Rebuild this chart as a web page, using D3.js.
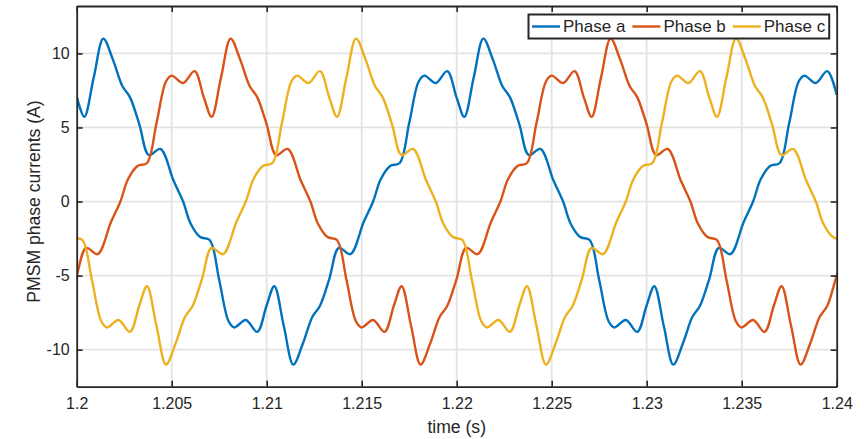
<!DOCTYPE html>
<html>
<head>
<meta charset="utf-8">
<script src="https://cdn.jsdelivr.net/npm/d3@7"></script>
<style>
body { margin: 0; background: #fff; }
text { font-family: "Liberation Sans", Arial, sans-serif; fill: #262626; }
</style>
</head>
<body>
<div id="chart"></div>
<script>
// Phase currents: [time (s), current (A)]
const phaseA = [
    [1.2000, 7.1], [1.2004, 5.72], [1.2009, 8.4], [1.2014, 11.0], [1.2019, 9.6], [1.2024, 7.8],
    [1.2028, 7.05], [1.2033, 5.2], [1.2038, 3.13], [1.2044, 3.55], [1.2051, 1.4], [1.2056, 0.0],
    [1.2060, -1.5], [1.2065, -2.4], [1.2070, -2.6], [1.2075, -5.3], [1.2080, -8.1], [1.2083, -8.5],
    [1.2089, -8.0], [1.2095, -8.8], [1.2100, -7.0], [1.2104, -5.72], [1.2109, -8.4], [1.2114, -11.0],
    [1.2119, -9.6], [1.2124, -7.8], [1.2128, -7.05], [1.2133, -5.2], [1.2138, -3.13], [1.2144, -3.55],
    [1.2151, -1.4], [1.2156, 0.0], [1.2160, 1.5], [1.2165, 2.4], [1.2170, 2.6], [1.2175, 5.3],
    [1.2180, 8.1], [1.2183, 8.5], [1.2189, 8.0], [1.2195, 8.8], [1.2200, 7.0], [1.2204, 5.72],
    [1.2209, 8.4], [1.2214, 11.0], [1.2219, 9.6], [1.2224, 7.8], [1.2228, 7.05], [1.2233, 5.2],
    [1.2238, 3.13], [1.2244, 3.55], [1.2251, 1.4], [1.2256, 0.0], [1.2260, -1.5], [1.2265, -2.4],
    [1.2270, -2.6], [1.2275, -5.3], [1.2280, -8.1], [1.2283, -8.5], [1.2289, -8.0], [1.2295, -8.8],
    [1.2300, -7.0], [1.2304, -5.72], [1.2309, -8.4], [1.2314, -11.0], [1.2319, -9.6], [1.2324, -7.8],
    [1.2328, -7.05], [1.2333, -5.2], [1.2338, -3.13], [1.2344, -3.55], [1.2351, -1.4], [1.2356, 0.0],
    [1.2360, 1.5], [1.2365, 2.4], [1.2370, 2.6], [1.2375, 5.3], [1.2380, 8.1], [1.2383, 8.5],
    [1.2389, 8.0], [1.2395, 8.8], [1.2400, 7.2]
];

const phaseB = [
    [1.1995, -7.05], [1.2000, -5.0], [1.2005, -3.13], [1.2011, -3.55], [1.2018, -1.4], [1.2023, 0.0],
    [1.2027, 1.5], [1.2032, 2.4], [1.2037, 2.6], [1.2042, 5.3], [1.2047, 8.1], [1.2050, 8.5],
    [1.2056, 8.0], [1.2062, 8.8], [1.2067, 7.0], [1.2071, 5.72], [1.2076, 8.4], [1.2081, 11.0],
    [1.2086, 9.6], [1.2091, 7.8], [1.2095, 7.05], [1.2100, 5.2], [1.2105, 3.13], [1.2111, 3.55],
    [1.2118, 1.4], [1.2123, 0.0], [1.2127, -1.5], [1.2132, -2.4], [1.2137, -2.6], [1.2142, -5.3],
    [1.2147, -8.1], [1.2150, -8.5], [1.2156, -8.0], [1.2162, -8.8], [1.2167, -7.0], [1.2171, -5.72],
    [1.2176, -8.4], [1.2181, -11.0], [1.2186, -9.6], [1.2191, -7.8], [1.2195, -7.05], [1.2200, -5.2],
    [1.2205, -3.13], [1.2211, -3.55], [1.2218, -1.4], [1.2223, 0.0], [1.2227, 1.5], [1.2232, 2.4],
    [1.2237, 2.6], [1.2242, 5.3], [1.2247, 8.1], [1.2250, 8.5], [1.2256, 8.0], [1.2262, 8.8],
    [1.2267, 7.0], [1.2271, 5.72], [1.2276, 8.4], [1.2281, 11.0], [1.2286, 9.6], [1.2291, 7.8],
    [1.2295, 7.05], [1.2300, 5.2], [1.2305, 3.13], [1.2311, 3.55], [1.2318, 1.4], [1.2323, 0.0],
    [1.2327, -1.5], [1.2332, -2.4], [1.2337, -2.6], [1.2342, -5.3], [1.2347, -8.1], [1.2350, -8.5],
    [1.2356, -8.0], [1.2362, -8.8], [1.2367, -7.0], [1.2371, -5.72], [1.2376, -8.4], [1.2381, -11.0],
    [1.2386, -9.6], [1.2391, -7.8], [1.2395, -7.05], [1.2400, -5.0], [1.2405, -3.13]
];

const phaseC = [
    [1.1993, -1.5], [1.1998, -2.4], [1.2003, -2.6], [1.2008, -5.3], [1.2013, -8.1], [1.2016, -8.5],
    [1.2022, -8.0], [1.2028, -8.8], [1.2033, -7.0], [1.2037, -5.72], [1.2042, -8.4], [1.2047, -11.0],
    [1.2052, -9.6], [1.2057, -7.8], [1.2061, -7.05], [1.2066, -5.2], [1.2071, -3.13], [1.2077, -3.55],
    [1.2084, -1.4], [1.2089, 0.0], [1.2093, 1.5], [1.2098, 2.4], [1.2103, 2.6], [1.2108, 5.3],
    [1.2113, 8.1], [1.2116, 8.5], [1.2122, 8.0], [1.2128, 8.8], [1.2133, 7.0], [1.2137, 5.72],
    [1.2142, 8.4], [1.2147, 11.0], [1.2152, 9.6], [1.2157, 7.8], [1.2161, 7.05], [1.2166, 5.2],
    [1.2171, 3.13], [1.2177, 3.55], [1.2184, 1.4], [1.2189, 0.0], [1.2193, -1.5], [1.2198, -2.4],
    [1.2203, -2.6], [1.2208, -5.3], [1.2213, -8.1], [1.2216, -8.5], [1.2222, -8.0], [1.2228, -8.8],
    [1.2233, -7.0], [1.2237, -5.72], [1.2242, -8.4], [1.2247, -11.0], [1.2252, -9.6], [1.2257, -7.8],
    [1.2261, -7.05], [1.2266, -5.2], [1.2271, -3.13], [1.2277, -3.55], [1.2284, -1.4], [1.2289, 0.0],
    [1.2293, 1.5], [1.2298, 2.4], [1.2303, 2.6], [1.2308, 5.3], [1.2313, 8.1], [1.2316, 8.5],
    [1.2322, 8.0], [1.2328, 8.8], [1.2333, 7.0], [1.2337, 5.72], [1.2342, 8.4], [1.2347, 11.0],
    [1.2352, 9.6], [1.2357, 7.8], [1.2361, 7.05], [1.2366, 5.2], [1.2371, 3.13], [1.2377, 3.55],
    [1.2384, 1.4], [1.2389, 0.0], [1.2393, -1.5], [1.2398, -2.4], [1.2403, -2.6]
];

const seriesNames = ["Phase a", "Phase b", "Phase c"];
const seriesColors = ["#0072BD", "#D95319", "#EDB120"];
const xTicks = [1.2, 1.205, 1.21, 1.215, 1.22, 1.225, 1.23, 1.235, 1.24];
const xTickLabels = ["1.2", "1.205", "1.21", "1.215", "1.22", "1.225", "1.23", "1.235", "1.24"];
const yTicks = [-10, -5, 0, 5, 10];
const yTickLabels = ["-10", "-5", "0", "5", "10"];

const width = 864, height = 439;
const margin = { top: 6, right: 27.3, bottom: 52.3, left: 76.7 };
const innerW = width - margin.left - margin.right;
const innerH = height - margin.top - margin.bottom;

const svg = d3.select("#chart")
    .append("svg")
    .attr("width", width)
    .attr("height", height)
    .style("background", "#fff");

const x = d3.scaleLinear().domain([1.2, 1.24]).range([0, innerW]);
const y = d3.scaleLinear().domain([-12.5, 13.2]).range([innerH, 0]);

const g = svg.append("g").attr("transform", `translate(${margin.left},${margin.top})`);

// grid
g.append("g")
    .selectAll("line")
    .data(xTicks.slice(1, -1))
    .join("line")
    .attr("x1", d => x(d)).attr("x2", d => x(d))
    .attr("y1", 0).attr("y2", innerH)
    .attr("stroke", "#e3e3e3").attr("stroke-width", 1.8);

g.append("g")
    .selectAll("line")
    .data(yTicks)
    .join("line")
    .attr("x1", 0).attr("x2", innerW)
    .attr("y1", d => y(d)).attr("y2", d => y(d))
    .attr("stroke", "#e3e3e3").attr("stroke-width", 1.8);

// lines
svg.append("clipPath").attr("id", "plot-clip")
    .append("rect").attr("width", innerW).attr("height", innerH);

const line = d3.line()
    .x(d => x(d[0]))
    .y(d => y(d[1]))
    .curve(d3.curveCatmullRom.alpha(0.5));

g.append("g")
    .attr("clip-path", "url(#plot-clip)")
    .selectAll("path")
    .data([phaseA, phaseB, phaseC])
    .join("path")
    .attr("d", line)
    .attr("fill", "none")
    .attr("stroke", (d, i) => seriesColors[i])
    .attr("stroke-width", 2.4)
    .attr("stroke-linejoin", "round");

// axes (ticks inward, box all round)
const axisColor = "#262626";
function styleAxis(sel) {
    sel.select(".domain").attr("stroke", axisColor).attr("stroke-width", 1.8);
    sel.selectAll(".tick line").attr("stroke", axisColor).attr("stroke-width", 1.6);
    sel.selectAll(".tick text").attr("fill", axisColor).style("font-size", "16px")
        .style("font-family", '"Liberation Sans", Arial, sans-serif');
}

g.append("g")
    .attr("transform", `translate(0,${innerH})`)
    .call(d3.axisBottom(x).tickValues(xTicks).tickFormat((d, i) => xTickLabels[i])
        .tickSize(-6).tickSizeOuter(0).tickPadding(11))
    .call(styleAxis);

g.append("g")
    .call(d3.axisTop(x).tickValues(xTicks).tickFormat("").tickSize(-6).tickSizeOuter(0))
    .call(styleAxis);

g.append("g")
    .call(d3.axisLeft(y).tickValues(yTicks).tickFormat((d, i) => yTickLabels[i])
        .tickSize(-6).tickSizeOuter(0).tickPadding(7))
    .call(styleAxis);

g.append("g")
    .attr("transform", `translate(${innerW},0)`)
    .call(d3.axisRight(y).tickValues(yTicks).tickFormat("").tickSize(-6).tickSizeOuter(0))
    .call(styleAxis);

// axis labels
svg.append("text")
    .attr("x", margin.left + innerW / 2)
    .attr("y", 433)
    .attr("text-anchor", "middle")
    .style("font-size", "17.6px")
    .text("time (s)");

svg.append("text")
    .attr("transform", `translate(40,${margin.top + y(0)}) rotate(-90)`)
    .attr("text-anchor", "middle")
    .style("font-size", "17.6px")
    .text("PMSM phase currents (A)");

// legend
const legend = svg.append("g");
const legendBox = legend.append("rect")
    .attr("fill", "#fff")
    .attr("stroke", axisColor)
    .attr("stroke-width", 2);

let lx = 532;
const ly = 26.5;
seriesNames.forEach((name, i) => {
    legend.append("line")
        .attr("x1", lx).attr("x2", lx + 28)
        .attr("y1", ly).attr("y2", ly)
        .attr("stroke", seriesColors[i]).attr("stroke-width", 2.4);
    const t = legend.append("text")
        .attr("x", lx + 31)
        .attr("y", ly)
        .attr("dy", "0.35em")
        .style("font-size", "17px")
        .text(name);
    lx += 31 + t.node().getComputedTextLength() + 7;
});

legendBox
    .attr("x", 528.5)
    .attr("y", 14.5)
    .attr("width", lx - 7 + 4 - 528.5)
    .attr("height", 24);
</script>
</body>
</html>
